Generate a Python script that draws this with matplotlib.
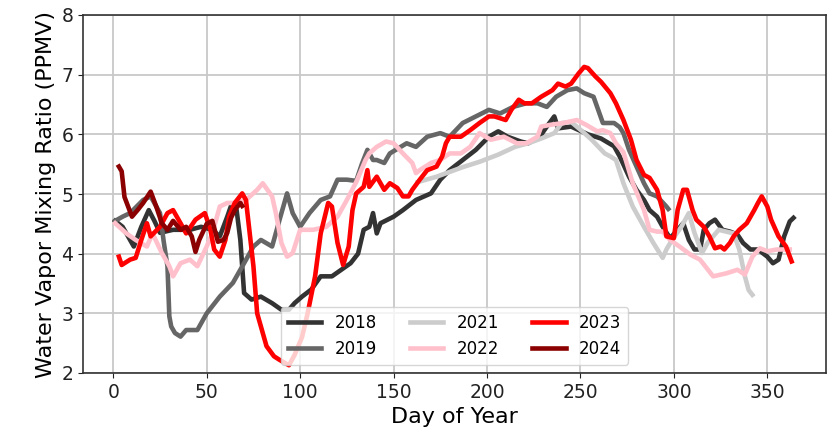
import matplotlib
matplotlib.use("Agg")
import matplotlib.pyplot as plt

# ---- data (day of year, water vapor mixing ratio in PPMV) ----
days_2018 = [1, 5, 11, 15, 19, 22, 25, 32, 41, 47, 53, 57, 61, 63, 66, 68, 70, 74, 79, 85, 90, 94, 97, 101, 106, 111, 117, 122, 127, 131, 134, 137, 139, 141, 143, 150, 155, 162, 170, 175, 180, 187, 194, 201, 206, 211, 218, 222, 228, 232, 236, 238, 245, 254, 261, 268, 271, 276, 280, 284, 287, 291, 294, 298, 302, 305, 308, 311, 314, 316, 319, 322, 326, 330, 334, 337, 341, 345, 350, 353, 356, 359, 362, 364]
vals_2018 = [4.55, 4.45, 4.12, 4.45, 4.73, 4.55, 4.35, 4.40, 4.40, 4.45, 4.40, 4.29, 4.62, 4.80, 4.73, 4.23, 3.34, 3.23, 3.28, 3.17, 3.06, 3.06, 3.17, 3.28, 3.40, 3.62, 3.62, 3.73, 3.84, 4.00, 4.40, 4.45, 4.68, 4.34, 4.51, 4.62, 4.73, 4.90, 5.01, 5.24, 5.40, 5.57, 5.74, 5.96, 6.05, 5.96, 5.88, 5.85, 5.95, 6.13, 6.30, 6.10, 6.13, 6.00, 5.93, 5.80, 5.63, 5.29, 5.07, 4.90, 4.73, 4.62, 4.45, 4.26, 4.40, 4.51, 4.23, 4.07, 4.07, 4.40, 4.51, 4.57, 4.40, 4.37, 4.32, 4.18, 4.07, 4.07, 3.95, 3.84, 3.90, 4.29, 4.54, 4.60]

days_2019 = [1, 5, 9, 16, 20, 25, 27, 29, 30, 31, 33, 36, 39, 45, 50, 57, 64, 70, 75, 79, 85, 89, 93, 96, 100, 105, 111, 116, 120, 125, 130, 133, 136, 139, 141, 145, 148, 157, 162, 168, 175, 180, 187, 194, 201, 207, 214, 221, 227, 232, 237, 243, 248, 252, 257, 262, 268, 271, 273, 276, 280, 284, 287, 291, 296, 297]
vals_2019 = [4.55, 4.62, 4.68, 4.90, 4.96, 4.68, 4.20, 3.79, 2.95, 2.78, 2.67, 2.61, 2.72, 2.72, 3.00, 3.28, 3.51, 3.84, 4.12, 4.23, 4.12, 4.57, 5.01, 4.68, 4.45, 4.68, 4.90, 4.96, 5.24, 5.24, 5.22, 5.50, 5.74, 5.57, 5.57, 5.52, 5.68, 5.85, 5.79, 5.96, 6.02, 5.96, 6.19, 6.30, 6.41, 6.35, 6.46, 6.52, 6.52, 6.46, 6.63, 6.74, 6.77, 6.69, 6.63, 6.19, 6.19, 6.12, 6.02, 5.74, 5.46, 5.18, 5.01, 4.96, 4.79, 4.75]

days_2021 = [163, 173, 187, 196, 206, 215, 222, 229, 236, 240, 245, 251, 256, 263, 266, 269, 273, 278, 284, 289, 294, 296, 299, 304, 308, 311, 315, 318, 324, 332, 335, 338, 340, 342]
vals_2021 = [5.20, 5.29, 5.45, 5.54, 5.66, 5.79, 5.85, 5.93, 6.02, 6.19, 6.21, 6.05, 5.91, 5.68, 5.63, 5.57, 5.18, 4.79, 4.45, 4.18, 3.93, 4.07, 4.23, 4.45, 4.68, 4.35, 4.01, 4.18, 4.40, 4.34, 4.07, 3.62, 3.39, 3.31]

days_2022 = [1, 7, 12, 18, 21, 26, 30, 32, 36, 41, 45, 50, 53, 57, 61, 66, 71, 77, 80, 85, 87, 90, 93, 96, 100, 107, 114, 120, 125, 130, 135, 137, 141, 146, 150, 155, 160, 162, 164, 170, 175, 180, 186, 191, 196, 202, 209, 216, 221, 227, 229, 234, 241, 248, 253, 259, 262, 266, 269, 273, 278, 284, 287, 291, 294, 298, 303, 309, 314, 321, 328, 334, 338, 342, 346, 350, 355, 362]
vals_2022 = [4.51, 4.34, 4.23, 4.12, 4.34, 4.01, 3.79, 3.62, 3.84, 3.90, 3.79, 4.12, 4.34, 4.79, 4.85, 4.85, 4.90, 5.07, 5.18, 4.96, 4.68, 4.18, 3.95, 4.01, 4.40, 4.40, 4.45, 4.62, 4.90, 5.20, 5.57, 5.68, 5.79, 5.88, 5.85, 5.68, 5.52, 5.35, 5.40, 5.52, 5.57, 5.68, 5.68, 5.79, 6.02, 5.91, 5.96, 5.85, 5.85, 5.96, 6.13, 6.16, 6.19, 6.24, 6.16, 6.05, 6.07, 6.02, 5.85, 5.70, 5.18, 4.73, 4.40, 4.37, 4.37, 4.23, 4.12, 3.98, 3.90, 3.62, 3.67, 3.73, 3.65, 3.95, 4.09, 4.04, 4.07, 4.07]

days_2023 = [3, 4.5, 9, 12, 15, 18, 20, 25, 29, 32, 36, 39, 44, 49, 52, 54, 57, 60, 62, 65, 69, 71, 75, 77, 79, 82, 86, 89, 94, 97, 101, 104, 108, 111, 115, 117, 120, 123, 126, 128, 130, 134, 136, 137, 141, 145, 148, 152, 155, 158, 160, 164, 168, 173, 176, 178, 180, 186, 191, 196, 201, 204, 210, 213, 217, 220, 224, 229, 235, 238, 242, 245, 249, 252, 254, 258, 261, 266, 269, 273, 277, 280, 284, 287, 291, 294, 296, 300, 302, 305, 307, 310, 312, 316, 319, 322, 325, 327, 330, 332, 335, 339, 343, 345, 347, 350, 352, 356, 360, 363]
vals_2023 = [3.95, 3.81, 3.90, 3.93, 4.23, 4.51, 4.29, 4.45, 4.68, 4.73, 4.51, 4.34, 4.57, 4.68, 4.40, 4.07, 3.95, 4.23, 4.62, 4.85, 5.01, 4.90, 3.79, 3.00, 2.78, 2.45, 2.28, 2.22, 2.13, 2.30, 2.60, 3.00, 3.62, 4.34, 4.85, 4.79, 4.18, 3.81, 4.12, 4.73, 5.01, 5.12, 5.40, 5.12, 5.29, 5.07, 5.18, 5.10, 4.96, 4.96, 5.07, 5.24, 5.40, 5.46, 5.63, 5.85, 5.96, 5.96, 6.07, 6.19, 6.30, 6.30, 6.24, 6.41, 6.58, 6.52, 6.52, 6.63, 6.74, 6.85, 6.80, 6.85, 7.02, 7.13, 7.11, 6.97, 6.88, 6.69, 6.52, 6.24, 5.91, 5.57, 5.32, 5.27, 5.07, 4.73, 4.29, 4.26, 4.73, 5.07, 5.07, 4.73, 4.57, 4.45, 4.29, 4.09, 4.12, 4.07, 4.18, 4.29, 4.40, 4.51, 4.73, 4.85, 4.96, 4.79, 4.57, 4.29, 4.12, 3.87]

days_2024 = [3, 4.5, 6, 10, 13, 16, 20, 23, 26, 29, 32, 36, 39, 42, 44, 46, 50, 53, 56, 59, 61, 63, 65, 68, 69]
vals_2024 = [5.46, 5.38, 4.95, 4.62, 4.73, 4.85, 5.04, 4.79, 4.51, 4.40, 4.55, 4.40, 4.45, 4.29, 4.03, 4.23, 4.50, 4.55, 4.20, 4.23, 4.35, 4.60, 4.73, 4.85, 4.80]

years = ["2018", "2019", "2021", "2022", "2023", "2024"]
colors = ["#333333", "#666666", "#cccccc", "pink", "red", "darkred"]
series_days = [days_2018, days_2019, days_2021, days_2022, days_2023, days_2024]
series_vals = [vals_2018, vals_2019, vals_2021, vals_2022, vals_2023, vals_2024]

fig = plt.figure(figsize=(8.36, 4.33), dpi=100)
ax = fig.add_axes([83 / 836, 1 - 373 / 433, (826 - 83) / 836, (373 - 15) / 433])

for lab, col, d, v in zip(years, colors, series_days, series_vals):
    ax.plot(d, v, color=col, lw=3.3, label=lab)

ax.set_xlim(-16.2, 381.4)
ax.set_ylim(2, 8)
ax.set_xticks([0, 50, 100, 150, 200, 250, 300, 350])
ax.set_yticks([2, 3, 4, 5, 6, 7, 8])
ax.grid(True, color="#c8c8c8", lw=1.3)
ax.set_axisbelow(True)
for s in ax.spines.values():
    s.set_color("#333333")
    s.set_linewidth(1.2)
ax.tick_params(labelsize=13.5, colors="#222222")
ax.set_xlabel("Day of Year", fontsize=16)
ax.set_ylabel("Water Vapor Mixing Ratio (PPMV)", fontsize=16)
ax.legend(loc="lower center", ncol=3, fontsize=12, framealpha=0.8)

fig.savefig("out.png", dpi=100)
